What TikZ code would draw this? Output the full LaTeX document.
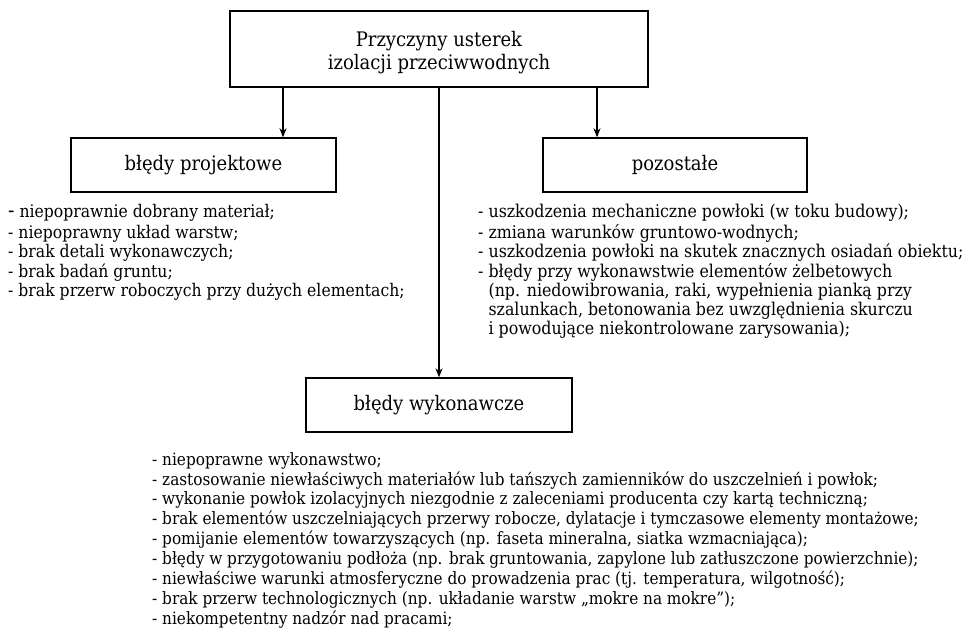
\documentclass[tikz,border=0pt]{standalone}
\usepackage{fontspec}
\setmainfont{DejaVu Serif Condensed}
\usetikzlibrary{arrows.meta,positioning}

\tikzset{
  box/.style={draw,line width=1.4pt,minimum width=265pt,minimum height=54pt,font=\fontsize{20}{23}\selectfont},
  list/.style={anchor=north west,inner sep=0pt,align=left,font=\fontsize{17}{19.7}\selectfont},
  arr/.style={line width=1.2pt,-{Stealth[length=9pt,width=7pt]}}
}

\begin{document}
\begin{tikzpicture}[x=1pt,y=-1pt]
    \useasboundingbox (0,0) rectangle (969,636);
    \node[box,line width=2pt,minimum width=418pt,minimum height=76pt,align=center] (przyczyny) at (439,49) {\rule{0pt}{23pt}Przyczyny usterek\\izolacji przeciwwodnych};
    % categories
    \node[box] (projekt) at (203.5,165) {błędy projektowe};
    \node[box,minimum width=264pt] (pozostale) at (675,165) {pozostałe};
    \node[box,minimum width=266pt] (wykon) at (439,405) {błędy wykonawcze};
    % connectors
    \draw[arr] ([xshift=-156pt]przyczyny.south) -- ([xshift=-156pt]przyczyny.south |- projekt.north);
    \draw[arr] ([xshift=158pt]przyczyny.south) -- ([xshift=158pt]przyczyny.south |- pozostale.north);
    \draw[arr] (przyczyny.south) -- (wykon.north);
    % lists
    \node[list,font=\fontsize{17.4}{19.5}\selectfont] (projektlist) at (8,204) {{\fontsize{21}{19.5}\selectfont -} niepoprawnie dobrany materiał;\\[1.5pt]
      - niepoprawny układ warstw;\\
      - brak detali wykonawczych;\\
      - brak badań gruntu;\\
      - brak przerw roboczych przy dużych elementach;};
    \node[list,font=\fontsize{17.6}{19.2}\selectfont] (pozostalelist) at (478,203.5) {- uszkodzenia mechaniczne powłoki (w toku budowy);\\[2.5pt]
      - zmiana warunków gruntowo-wodnych;\\
      - uszkodzenia powłoki na skutek znacznych osiadań obiektu;\\
      - błędy przy wykonawstwie elementów żelbetowych\\
      \phantom{- }(np. niedowibrowania, raki, wypełnienia pianką przy\\
      \phantom{- }szalunkach, betonowania bez uwzględnienia skurczu\\
      \phantom{- }i powodujące niekontrolowane zarysowania);};
    \node[list,font=\fontsize{17}{19.9}\selectfont] (wykonlist) at (152,452) {- niepoprawne wykonawstwo;\\
      - zastosowanie niewłaściwych materiałów lub tańszych zamienników do uszczelnień i powłok;\\
      - wykonanie powłok izolacyjnych niezgodnie z zaleceniami producenta czy kartą techniczną;\\
      - brak elementów uszczelniających przerwy robocze, dylatacje i tymczasowe elementy montażowe;\\
      - pomijanie elementów towarzyszących (np. faseta mineralna, siatka wzmacniająca);\\
      - błędy w przygotowaniu podłoża (np. brak gruntowania, zapylone lub zatłuszczone powierzchnie);\\
      - niewłaściwe warunki atmosferyczne do prowadzenia prac (tj. temperatura, wilgotność);\\
      - brak przerw technologicznych (np. układanie warstw „mokre na mokre”);\\
      - niekompetentny nadzór nad pracami;};
\end{tikzpicture}
\end{document}
